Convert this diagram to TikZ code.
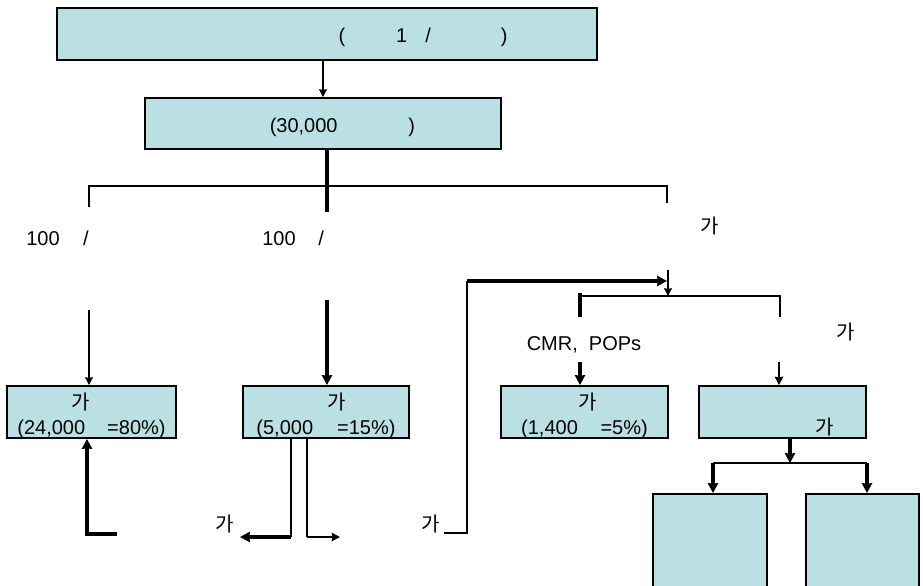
\documentclass[tikz,border=0pt]{standalone}
\usepackage{fontspec}
\setmainfont{Liberation Sans}
\newfontfamily\kr{Noto Sans CJK KR}
\usepackage{xcolor}
\usepackage{tikz}
\usetikzlibrary{shapes,arrows.meta,positioning,calc}
\definecolor{boxfill}{RGB}{187,224,227}

\begin{document}
\begin{tikzpicture}[x=0.75pt, y=-0.75pt,
    every node/.style={font=\fontsize{15pt}{18.75pt}\selectfont},
    box/.style={rectangle, draw, fill=boxfill, line width=1.5pt, inner sep=0pt, align=center},
    onebox/.style={box, execute at begin node={\rule{0pt}{16.5pt}}},
    twobox/.style={box, text height=35pt, text depth=2pt},
    lbl/.style={inner sep=0pt},
    thinline/.style={line width=1pt},
    midline/.style={line width=1.5pt},
    thickline/.style={line width=3pt},
    arrow/.style={-{Stealth[length=5pt 0.8, width=5pt 0.9, inset=0.5pt]}}]

    \useasboundingbox (0,0) rectangle (923,585);

    % boxes
    \node[onebox, minimum width=405pt, minimum height=39pt] (total) at (327,34)
        {\hspace*{144pt}(\hspace*{38.25pt}1\hspace*{13.5pt}/\hspace*{52.5pt})};
    \node[onebox, minimum width=267pt, minimum height=38.25pt] (pop) at (323,123.5)
        {\hspace*{29pt}(30,000\hspace*{53pt})};
    \node[twobox, minimum width=126.75pt, minimum height=39pt] (boxA) at (91.5,412)
        {{\kr 가}\hspace*{15.75pt}\null\\(24,000\hspace*{16.5pt}=80\%)};
    \node[twobox, minimum width=124.5pt, minimum height=39pt] (boxB) at (326,412)
        {\hspace*{16.5pt}{\kr 가}\\(5,000\hspace*{18pt}=15\%)};
    \node[twobox, minimum width=125.25pt, minimum height=39pt] (boxC) at (584.5,412)
        {\hspace*{5pt}{\kr 가}\\(1,400\hspace*{17pt}=5\%)};
    \node[twobox, minimum width=125.25pt, minimum height=39pt] (boxD) at (782.5,412)
        {\\\hspace*{64pt}{\kr 가}};
    \node[box, minimum width=85.5pt, minimum height=70.5pt] (boxE) at (710,541) {};
    \node[box, minimum width=84.75pt, minimum height=70.5pt] (boxF) at (862.5,541) {};

    % labels
    \node[lbl, anchor=base west] (rateA) at (26,245) {100\hspace*{17.7pt}/};
    \node[lbl, anchor=base west] (rateB) at (262,245) {100\hspace*{17pt}/};
    \node[lbl] (noteC) at (710,226) {{\kr 가}};
    \node[lbl] (noteD) at (846,332) {{\kr 가}};
    \node[lbl, anchor=base] (cmr) at (584,350) {CMR,\ \ POPs};
    \node[lbl] (outlbl) at (225,524) {{\kr 가}};
    \node[lbl] (fbk) at (431,524) {{\kr 가}};

    % top part
    \coordinate (trunk) at (327,212);
    \coordinate (bar) at (327,186);
    \coordinate (brL) at (89,207);
    \coordinate (brR) at (667,203);
    \draw[thinline, arrow] (total.south -| pop.north) -- (pop.north);
    \draw[midline] (brL) -- (brL |- bar) -- (brR |- bar) -- (brR);
    \draw[thickline] (pop.south -| trunk) -- (trunk);

    % left and middle
    \coordinate (inA) at (89,310);
    \coordinate (inB) at (327,300);
    \draw[thinline, arrow] (inA) -- (inA |- boxA.north);
    \draw[thickline, arrow] (inB) -- (inB |- boxB.north);

    \coordinate (retA) at (117,534);
    \coordinate (retAx) at (87,534);
    \draw[thickline, arrow] (retA) -- (retAx) -- (retAx |- boxA.south);

    \coordinate (outL) at (291,537);
    \coordinate (outLend) at (240,537);
    \coordinate (outR) at (307,537);
    \coordinate (outRend) at (340,537);
    \draw[thinline] (boxB.south -| outL) -- (outL);
    \draw[thickline, arrow] (outL) -- (outLend);
    \draw[thinline] (boxB.south -| outR) -- (outR);
    \draw[midline, arrow] (outR) -- (outRend);

    % feedback loop
    \coordinate (loopB) at (467,533);
    \coordinate (loopT) at (467,281);
    \coordinate (merge) at (667,281);
    \draw[midline] ($(fbk.east |- loopB)+(4,0)$) -- (loopB) -- (loopT);
    \draw[thickline, arrow] (loopT) -- (merge);

    % right part
    \coordinate (inC) at (668,270);
    \coordinate (bar2) at (668,296);
    \coordinate (br2L) at (580,317);
    \coordinate (br2R) at (780,317);
    \draw[thinline, arrow] (inC) -- (bar2);
    \draw[midline] (br2L |- bar2) -- (br2R |- bar2) -- (br2R);
    \draw[thickline] ($(br2L |- bar2)+(0,-3)$) -- (br2L);

    \coordinate (inCm) at (580,362);
    \coordinate (inD) at (779,362);
    \draw[thickline, arrow] (inCm) -- (inCm |- boxC.north);
    \draw[midline, arrow] (inD) -- (inD |- boxD.north);

    \coordinate (bar3) at (790,463);
    \coordinate (bar3L) at (713,463);
    \coordinate (bar3R) at (867,463);
    \draw[thickline, arrow] (boxD.south -| bar3) -- (bar3);
    \draw[midline] (bar3L) -- (bar3R);
    \draw[thickline, arrow] (bar3L) -- (bar3L |- boxE.north);
    \draw[thickline, arrow] (bar3R) -- (bar3R |- boxF.north);
\end{tikzpicture}
\end{document}
